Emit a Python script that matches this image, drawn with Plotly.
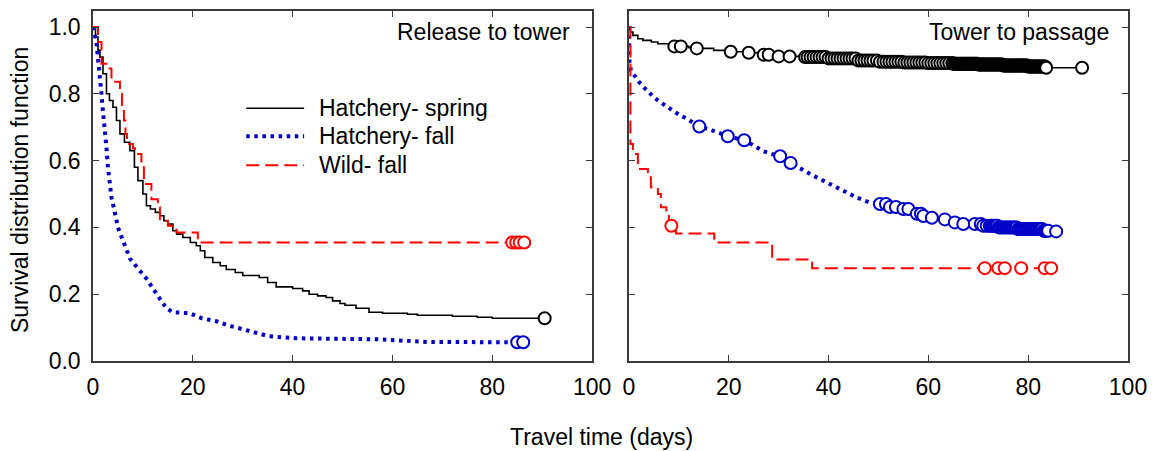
import numpy as np
import plotly.graph_objects as go

# ---------------- DATA ----------------
# Left panel: Release to tower
l_spring_t = [0, 0.5, 1.0, 1.4, 2.0, 2.7, 3.3, 4.0, 4.7, 5.4, 6.3, 7.4, 8.3, 9.0, 10.0, 10.7, 11.5, 12.5,
              13.4, 14.2, 15.0, 16.0, 16.8, 18.0, 19.5, 20.7, 21.5, 22.4, 24.0, 25.5, 26.7, 28.5, 30.0,
              33.3, 35.0, 36.7, 40.0, 42.0, 43.3, 45.0, 46.7, 48.0, 49.5, 50.5, 52.7, 55.3, 58.0, 63.0,
              65.0, 72.0, 77.0, 80.0, 90.5]
l_spring_s = [1.0, 0.97, 0.93, 0.91, 0.86, 0.80, 0.78, 0.76, 0.72, 0.68, 0.655, 0.63, 0.58, 0.54, 0.50,
              0.465, 0.455, 0.445, 0.435, 0.42, 0.41, 0.39, 0.38, 0.37, 0.355, 0.345, 0.33, 0.31, 0.295,
              0.285, 0.274, 0.265, 0.256, 0.25, 0.235, 0.222, 0.217, 0.21, 0.20, 0.195, 0.19, 0.18, 0.172,
              0.167, 0.158, 0.146, 0.143, 0.14, 0.137, 0.134, 0.131, 0.128, 0.128]
l_spring_cens = [90.5]

l_hfall_t = [0, 0.4, 0.7, 1.0, 1.4, 1.7, 2.0, 2.4, 2.7, 3.0, 3.4, 3.7, 4.4, 5.0, 6.0, 7.4, 9.0, 10.7,
             12.7, 14.7, 16.0, 19.4, 21.8, 24.7, 27.0, 30.0, 32.7, 35.3, 40.7, 49.0, 57.0, 67.0, 82.0, 86.2]
l_hfall_s = [1.0, 0.98, 0.955, 0.905, 0.857, 0.80, 0.747, 0.697, 0.637, 0.58, 0.53, 0.49, 0.443, 0.40,
             0.36, 0.307, 0.277, 0.247, 0.202, 0.158, 0.146, 0.143, 0.128, 0.119, 0.107, 0.095, 0.083,
             0.074, 0.068, 0.068, 0.065, 0.057, 0.056, 0.056]
l_hfall_cens = [85.0, 86.2]

l_wild_t = [0, 1.0, 1.7, 3.1, 3.7, 5.4, 5.8, 6.2, 6.5, 6.8, 8.0, 8.4, 9.7, 10.2, 11.7, 13.0, 13.4, 15.0,
            16.7, 21.0, 86.4]
l_wild_s = [1.0, 0.955, 0.89, 0.876, 0.836, 0.80, 0.76, 0.72, 0.68, 0.65, 0.637, 0.62, 0.58, 0.53,
            0.484, 0.46, 0.42, 0.405, 0.385, 0.355, 0.355]
l_wild_cens = [84.0, 84.8, 85.5, 86.4]

# Right panel: Tower to passage
r_spring_t = [0, 0.3, 0.8, 1.8, 2.8, 4.5, 5.8, 8.0, 9.1, 12.0, 13.6, 17.0, 20.4, 24.0, 27.0, 30.0, 35.3,
              40.0, 45.7, 50.0, 55.0, 60.0, 65.0, 70.0, 75.0, 80.0, 83.6, 90.8]
r_spring_s = [1.0, 0.985, 0.975, 0.965, 0.96, 0.955, 0.95, 0.945, 0.942, 0.938, 0.936, 0.93, 0.926,
              0.923, 0.917, 0.912, 0.91, 0.906, 0.90, 0.896, 0.894, 0.892, 0.89, 0.888, 0.885, 0.882,
              0.878, 0.878]
r_spring_cens = [9.1, 10.4, 13.6, 20.4, 24.0, 27.0, 28.0, 30.0, 32.2, 35.3, 35.8, 36.4, 37.0, 37.6, 38.2,
                 38.8, 39.4, 40.0, 40.6, 41.2, 41.8, 42.4, 43.0, 43.6, 44.2, 44.8, 45.4, 46.0, 46.6, 47.2,
                 47.8, 48.4, 49.0, 49.7, 50.3, 51.0, 51.6, 52.2, 52.8, 53.4, 54.0, 54.6, 55.2, 55.8, 56.4,
                 57.0, 57.6, 58.2, 58.8, 59.4, 60.0, 60.6, 61.2, 61.8, 62.4, 63.0, 63.6, 64.2, 64.8,
                 65.0, 65.2, 65.4, 65.6, 65.8, 66.0, 66.2, 66.4, 66.6, 66.8, 67.0, 67.2, 67.4, 67.6, 67.8,
                 68.0, 68.2, 68.4, 68.6, 68.8, 69.0, 69.2, 69.4, 69.6, 69.8, 70.0, 70.2, 70.4, 70.6, 70.8,
                 71.0, 71.2, 71.4, 71.6, 71.8, 72.0, 72.2, 72.4, 72.6, 72.8, 73.0, 73.2, 73.4, 73.6, 73.8,
                 74.0, 74.2, 74.4, 74.6, 74.8, 75.0, 75.2, 75.4, 75.6, 75.8, 76.0, 76.2, 76.4, 76.6, 76.8,
                 77.0, 77.2, 77.4, 77.6, 77.8, 78.0, 78.2, 78.4, 78.6, 78.8, 79.0, 79.2, 79.4, 79.6, 79.8,
                 80.0, 80.2, 80.4, 80.6, 80.8, 81.0, 81.2, 81.4, 81.6, 81.8, 82.0, 82.2, 82.4, 82.6, 82.8,
                 83.0, 83.2, 83.4, 83.6, 90.8]

r_hfall_t = [0, 0.05, 0.1, 0.4, 1.0, 1.8, 2.8, 3.8, 5.0, 6.1, 7.3, 8.4, 10.0, 11.4, 12.8, 14.1, 15.8,
             17.4, 18.6, 19.8, 21.5, 23.1, 25.0, 27.0, 28.6, 30.3, 31.4, 32.4, 34.3, 36.3, 39.0, 41.7,
             43.7, 45.7, 48.3, 50.3, 52.3, 55.0, 57.7, 59.0, 60.7, 63.3, 65.3, 67.0, 71.0, 74.0, 78.0,
             83.0, 85.6]
r_hfall_s = [1.0, 0.945, 0.896, 0.87, 0.855, 0.84, 0.822, 0.807, 0.79, 0.777, 0.764, 0.752, 0.738,
             0.727, 0.714, 0.702, 0.695, 0.688, 0.68, 0.673, 0.667, 0.661, 0.645, 0.628, 0.62, 0.613,
             0.603, 0.593, 0.577, 0.56, 0.54, 0.519, 0.503, 0.489, 0.474, 0.47, 0.461, 0.455, 0.441,
             0.434, 0.429, 0.424, 0.415, 0.41, 0.405, 0.40, 0.395, 0.39, 0.388]
r_hfall_cens = [14.1, 19.8, 23.1, 30.3, 32.4, 50.3, 51.5, 52.3, 53.5, 55.0, 56.0, 57.7, 58.5, 59.0,
                60.7, 63.3, 65.3, 67.0, 69.3, 70.5, 71.0, 71.7, 72.3, 72.6, 72.9, 73.2, 73.5, 73.8,
                74.1, 74.4, 74.7, 75.0, 75.3, 75.6, 75.9, 76.2, 76.5, 76.8, 77.1, 77.4, 77.7, 78.0,
                78.3, 78.6, 78.9, 79.2, 79.5, 79.8, 80.1, 80.4, 80.7, 81.0, 81.3, 81.6, 81.9, 82.2,
                82.5, 82.8, 83.1, 83.4, 83.7, 84.0, 85.6]

r_wild_t = [0, 0.3, 0.8, 1.8, 3.8, 4.4, 5.8, 6.4, 7.5, 8.0, 9.4, 17.1, 28.7, 36.7, 84.6]
r_wild_s = [1.0, 0.65, 0.62, 0.575, 0.55, 0.52, 0.50, 0.46, 0.44, 0.405, 0.382, 0.355, 0.304, 0.278, 0.278]
r_wild_cens = [8.5, 71.3, 74.0, 75.3, 78.6, 83.3, 84.6]

x_ticks = [0, 20, 40, 60, 80, 100]
y_ticks = [0.0, 0.2, 0.4, 0.6, 0.8, 1.0]
series_names = ["Hatchery- spring", "Hatchery- fall", "Wild- fall"]
panel_titles = ["Release to tower", "Tower to passage"]

# ---------------- STYLE ----------------
FONT = "Liberation Sans, Arial, sans-serif"
FS = 23
AX = "#3a3a3a"
styles = [
    dict(color="#000000", width=1.6, dash="solid", shape="hv"),
    dict(color="#0000c8", width=4, dash="3.5px,4.6px", shape="linear"),
    dict(color="#ff0000", width=2, dash="13px,6px", shape="hv"),
]


def km_at(tt, ss, c):
    tt = np.asarray(tt)
    ss = np.asarray(ss)
    idx = np.searchsorted(tt, c, side="right") - 1
    return ss[idx]


fig = go.Figure()
panels = [
    ("x", "y", [(l_spring_t, l_spring_s, l_spring_cens), (l_hfall_t, l_hfall_s, l_hfall_cens),
                (l_wild_t, l_wild_s, l_wild_cens)]),
    ("x2", "y2", [(r_spring_t, r_spring_s, r_spring_cens), (r_hfall_t, r_hfall_s, r_hfall_cens),
                  (r_wild_t, r_wild_s, r_wild_cens)]),
]
for xa, ya, series in panels:
    for i, (tt, ss, cc) in enumerate(series):
        st = styles[i]
        fig.add_trace(go.Scatter(x=tt, y=ss, mode="lines", line_shape=st["shape"],
                                 line=dict(color=st["color"], width=st["width"], dash=st["dash"]),
                                 xaxis=xa, yaxis=ya, showlegend=False, hoverinfo="skip"))
    for i, (tt, ss, cc) in enumerate(series):
        st = styles[i]
        fig.add_trace(go.Scatter(x=cc, y=km_at(tt, ss, cc), mode="markers",
                                 marker=dict(symbol="circle", size=12, color="white",
                                             line=dict(color=st["color"], width=2)),
                                 xaxis=xa, yaxis=ya, showlegend=False, hoverinfo="skip"))

axis_common = dict(range=[0, 100], tickvals=x_ticks, ticks="inside", ticklen=6, tickcolor=AX,
                   tickwidth=1.3, showline=True, linecolor=AX, linewidth=1.5, mirror="ticks",
                   showgrid=False, zeroline=False, tickfont=dict(family=FONT, size=FS, color="black"),
                   ticklabelstandoff=5)
yaxis_common = dict(range=[0, 1.048], tickvals=y_ticks, ticks="inside", ticklen=6, tickcolor=AX,
                    tickwidth=1.3, showline=True, linecolor=AX, linewidth=1.5, mirror="ticks",
                    showgrid=False, zeroline=False, tickfont=dict(family=FONT, size=FS, color="black"),
                    tickformat=".1f", ticklabelstandoff=6)

fig.update_layout(
    width=1156, height=451,
    margin=dict(l=93, r=24, t=9, b=90),
    paper_bgcolor="white", plot_bgcolor="white",
    font=dict(family=FONT, size=FS, color="black"),
    xaxis=dict(domain=[0, 0.4822], anchor="y", **axis_common),
    xaxis2=dict(domain=[0.5178, 1], anchor="y2", **axis_common),
    yaxis=dict(domain=[0, 1], anchor="x", **yaxis_common),
    yaxis2=dict(domain=[0, 1], anchor="x2", showticklabels=False, **yaxis_common),
    showlegend=False,
)

# Legend (drawn manually in the left panel)
leg_y = [0.757, 0.673, 0.586]
for i, name in enumerate(series_names):
    st = styles[i]
    fig.add_shape(type="line", xref="x", yref="y", x0=30.7, x1=42.3, y0=leg_y[i], y1=leg_y[i],
                  line=dict(color=st["color"], width=st["width"], dash=st["dash"]))
    fig.add_annotation(xref="x", yref="y", x=44.8, y=leg_y[i], text=name, showarrow=False,
                       xanchor="left", yanchor="middle", font=dict(family=FONT, size=FS, color="black"))

# Panel titles
fig.add_annotation(xref="x", yref="y", x=96.0, y=0.985, text=panel_titles[0], showarrow=False,
                   xanchor="right", yanchor="middle", font=dict(family=FONT, size=FS, color="black"))
fig.add_annotation(xref="x2", yref="y2", x=96.5, y=0.985, text=panel_titles[1], showarrow=False,
                   xanchor="right", yanchor="middle", font=dict(family=FONT, size=FS, color="black"))

# Axis titles
fig.add_annotation(xref="paper", yref="paper", x=0.491, y=-0.216, text="Travel time (days)",
                   showarrow=False, xanchor="center", yanchor="middle",
                   font=dict(family=FONT, size=FS, color="black"))
fig.add_annotation(xref="paper", yref="paper", x=-0.0703, y=0.489, text="Survival distribution function",
                   showarrow=False, textangle=-90, xanchor="center", yanchor="middle",
                   font=dict(family=FONT, size=FS, color="black"))

fig.write_html("out.html")
